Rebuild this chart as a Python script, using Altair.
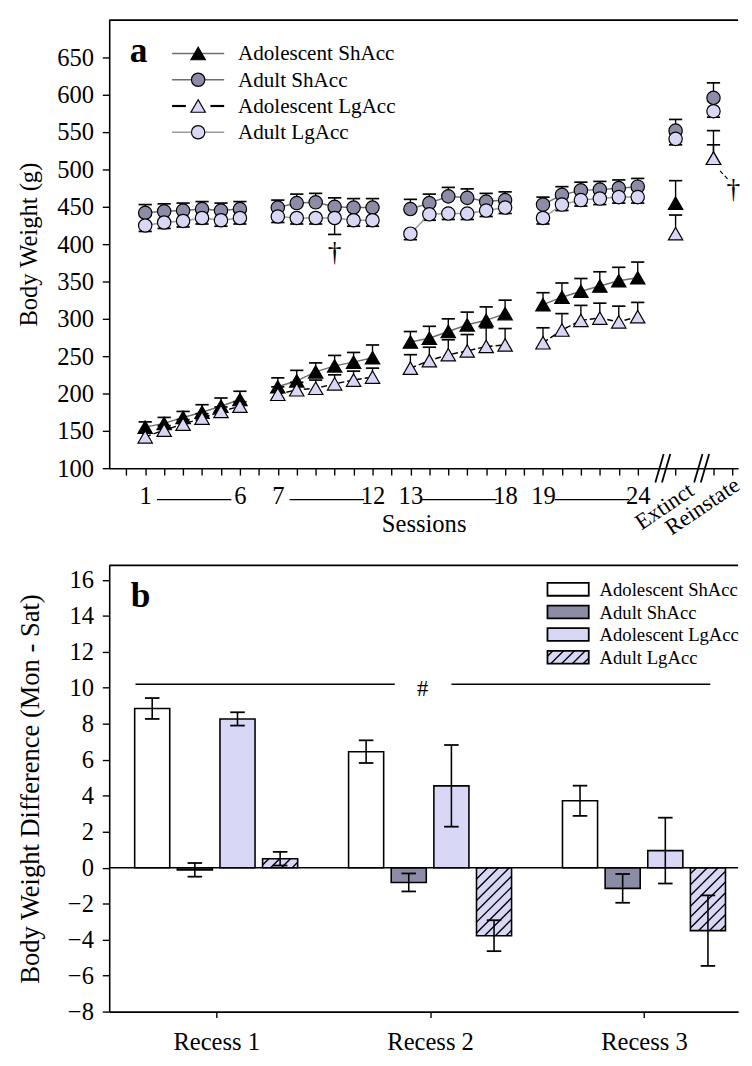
import altair as alt
import pandas as pd

FONT = "Liberation Serif"
DARK = "#8c8ca6"
LIGHT = "#d8d8f6"

# ---------------- panel a data ----------------
series_names = ["Adolescent ShAcc", "Adult ShAcc", "Adolescent LgAcc", "Adult LgAcc"]
positions = [1, 2, 3, 4, 5, 6, 8, 9, 10, 11, 12, 13, 15, 16, 17, 18, 19, 20,
             22, 23, 24, 25, 26, 27, 29, 31]
blocks = [1] * 6 + [2] * 6 + [3] * 6 + [4] * 6 + [5, 6]
session_label_pos = [1, 6, 8, 13, 15, 20, 22, 27]
session_labels = ["1", "6", "7", "12", "13", "18", "19", "24"]
phase_pos = [29, 31]
phase_labels = ["Extinct", "Reinstate"]

adol_sh_mean = [155, 160, 168, 175, 183, 192, 209, 217, 229, 237, 242, 248,
                269, 274, 283, 292, 298, 307, 319, 329, 337, 344, 351, 355, 455, 515]
adol_sh_sem = [7, 8, 8, 10, 11, 11, 12, 14, 12, 14, 13, 17,
               14, 16, 17, 17, 18, 18, 16, 19, 17, 19, 18, 21, 30, 18]
adult_sh_mean = [442, 444, 445, 447, 445, 447, 449, 455, 456, 450, 449, 449,
                 447, 455, 464, 462, 457, 459, 453, 466, 472, 473, 475, 477, 552, 596]
adult_sh_sem = [11, 10, 10, 10, 10, 10, 10, 12, 12, 12, 12, 12,
                13, 12, 12, 12, 11, 11, 10, 11, 11, 11, 11, 11, 15, 20]
adol_lg_mean = [142, 151, 159, 167, 176, 183, 199, 205, 207, 213, 218, 222,
                234, 244, 252, 257, 263, 265, 268, 285, 298, 301, 296, 303, 414, 515]
adol_lg_sem = [6, 6, 6, 6, 6, 6, 10, 10, 11, 12, 12, 12,
               18, 18, 20, 22, 25, 22, 20, 22, 20, 20, 21, 19, 25, 37]
adult_lg_mean = [425, 429, 431, 435, 432, 435, 437, 435, 435, 435, 432, 432,
                 414, 440, 441, 441, 445, 449, 435, 453, 459, 461, 463, 463, 541, 578]
adult_lg_sem = [8, 8, 8, 8, 8, 8, 8, 8, 8, 22, 8, 8,
                8, 8, 8, 8, 8, 8, 8, 8, 8, 8, 8, 8, 8, 8]

# ---------------- panel b data ----------------
recess_labels = ["Recess 1", "Recess 2", "Recess 3"]
diff_mean = {
    "Adolescent ShAcc": [8.85, 6.45, 3.72],
    "Adult ShAcc": [-0.12, -0.82, -1.15],
    "Adolescent LgAcc": [8.27, 4.55, 0.95],
    "Adult LgAcc": [0.5, -3.78, -3.5],
}
diff_sem = {
    "Adolescent ShAcc": [0.58, 0.63, 0.84],
    "Adult ShAcc": [0.38, 0.5, 0.8],
    "Adolescent LgAcc": [0.37, 2.27, 1.83],
    "Adult LgAcc": [0.38, 0.86, 1.96],
}

# ---------------- layout constants ----------------
W = 640
HA = 456
HB = 454
XA_DOM = [-0.9, 32.3]
YA_DOM = [100, 700]
XB_DOM = [0.5, 3.44]
YB_DOM = [-8, 16.8]
LABEL_SIZE = 25

xa_scale = alt.Scale(domain=XA_DOM, nice=False, zero=False)
ya_scale = alt.Scale(domain=YA_DOM, nice=False, zero=False)
xb_scale = alt.Scale(domain=XB_DOM, nice=False, zero=False)
yb_scale = alt.Scale(domain=YB_DOM, nice=False, zero=False)

lab_map = {p: l for p, l in zip(session_label_pos, session_labels)}
label_expr = "".join(f"datum.value == {p} ? '{l}' : " for p, l in lab_map.items()) + "''"

axis_common = dict(labelFont=FONT, titleFont=FONT, labelColor="black", titleColor="black",
                   domainColor="black", tickColor="black", domainWidth=1.6, tickWidth=1.4,
                   grid=False, titleFontWeight="normal", labelFontSize=LABEL_SIZE)

xa_axis = alt.Axis(values=list(range(0, 28)) + [29, 31, 32], labelExpr=label_expr,
                   title="Sessions", titleFontSize=25, tickSize=7, labelPadding=9, titlePadding=3,
                   labelOverlap=False, labelFlush=False, **axis_common)
ya_axis = alt.Axis(values=list(range(100, 651, 50)), title="Body Weight (g)", titleFontSize=25,
                   tickSize=7, labelPadding=9, titlePadding=15, minExtent=54, maxExtent=54,
                   **axis_common)
xb_axis = alt.Axis(values=[1, 2, 3],
                   labelExpr="datum.value == 1 ? 'Recess 1' : datum.value == 2 ? 'Recess 2' : 'Recess 3'",
                   title=None, tickSize=6, labelPadding=13, labelOverlap=False, labelFlush=False,
                   **axis_common)
yb_axis = alt.Axis(values=list(range(-8, 17, 2)), title="Body Weight Difference (Mon - Sat)",
                   titleFontSize=27, tickSize=7, labelPadding=9, titlePadding=12,
                   minExtent=54, maxExtent=54, **axis_common)


def XA(f):
    return alt.X(f"{f}:Q", scale=xa_scale, axis=xa_axis)


def YA(f):
    return alt.Y(f"{f}:Q", scale=ya_scale, axis=ya_axis)


def XB(f):
    return alt.X(f"{f}:Q", scale=xb_scale, axis=xb_axis)


def YB(f):
    return alt.Y(f"{f}:Q", scale=yb_scale, axis=yb_axis)


one = pd.DataFrame({"k": [0]})

# ---------------- panel a ----------------
series_def = [
    ("Adolescent ShAcc", adol_sh_mean, adol_sh_sem, 1, "triangle-up", "black", "#6e6e6e", None),
    ("Adult ShAcc", adult_sh_mean, adult_sh_sem, 1, "circle", DARK, "#6e6e6e", None),
    ("Adolescent LgAcc", adol_lg_mean, adol_lg_sem, 1, "triangle-up", LIGHT, "black", [6, 3]),
    ("Adult LgAcc", adult_lg_mean, adult_lg_sem, -1, "circle", LIGHT, "#9a9a9a", None),
]
TRI_SIZE = 215
CIR_SIZE = 185

layers_a = []
layers_a.append(alt.Chart(one).mark_rule(color="black", strokeWidth=1.8).encode(
    x=alt.value(0), x2=alt.value(W), y=alt.value(0)))

# connector lines between session range labels
conn = pd.DataFrame({
    "xs": [session_label_pos[i] + 0.62 for i in range(0, 8, 2)],
    "xe": [session_label_pos[i + 1] - 0.45 for i in range(0, 8, 2)],
})
layers_a.append(alt.Chart(conn).mark_rule(color="black", strokeWidth=1.4).encode(
    x=XA("xs"), x2="xe:Q", y=alt.value(HA + 32)))

# axis breaks
brk = pd.DataFrame({"c": [28.15, 28.5, 30.2, 30.55]})
brk["x0"] = brk["c"] - 0.22
brk["x1"] = brk["c"] + 0.22
brk["y0"] = YA_DOM[0] - 19
brk["y1"] = YA_DOM[0] + 19
layers_a.append(alt.Chart(brk).mark_rule(color="black", strokeWidth=1.8).encode(
    x=XA("x0"), x2="x1:Q", y=YA("y0"), y2="y1:Q"))

for name, means, sems, direc, shape, fill, lcol, dash in series_def:
    df = pd.DataFrame({"pos": positions, "block": blocks, "mean": means, "sem": sems})
    df["end"] = df["mean"] + direc * df["sem"]
    df["cl"] = df["pos"] - 0.35
    df["cr"] = df["pos"] + 0.35
    layers_a.append(alt.Chart(df).mark_rule(color="black", strokeWidth=1.4).encode(
        x=XA("pos"), y=YA("mean"), y2="end:Q"))
    layers_a.append(alt.Chart(df).mark_rule(color="black", strokeWidth=1.7).encode(
        x=XA("cl"), x2="cr:Q", y=YA("end")))
    lkw = dict(color=lcol, strokeWidth=1.5)
    if dash:
        lkw["strokeDash"] = dash
    layers_a.append(alt.Chart(df[df["block"] <= 4]).mark_line(**lkw).encode(
        x=XA("pos"), y=YA("mean"), detail="block:N"))
    size = TRI_SIZE if shape == "triangle-up" else CIR_SIZE
    layers_a.append(alt.Chart(df).mark_point(shape=shape, filled=True, fill=fill, stroke="black",
                                             strokeWidth=1.2, size=size, opacity=1,
                                             fillOpacity=1).encode(
        x=XA("pos"), y=YA("mean")))

# daggers
dag = pd.DataFrame({"x": [11, 32.05], "y": [388, 472]})
layers_a.append(alt.Chart(dag).mark_text(text="\u2020", font=FONT, fontSize=28, color="black",
                                         baseline="middle").encode(x=XA("x"), y=YA("y")))
dl = pd.DataFrame({"x0": [31.35], "x1": [31.8], "y0": [498], "y1": [486]})
layers_a.append(alt.Chart(dl).mark_rule(color="black", strokeWidth=1.2, strokeDash=[4, 3]).encode(
    x=XA("x0"), x2="x1:Q", y=YA("y0"), y2="y1:Q"))

# phase labels (rotated)
ph = pd.DataFrame({"x": [p - 0.58 for p in phase_pos], "t": phase_labels})
layers_a.append(alt.Chart(ph).mark_text(font=FONT, fontSize=23, color="black", angle=326,
                                        align="center", baseline="middle").encode(
    x=XA("x"), y=alt.value(HA + 39), text="t:N"))

# legend a
LA_Y0, LA_DY = 34, 26.7
for i, (name, means, sems, direc, shape, fill, lcol, dash) in enumerate(series_def):
    yy = LA_Y0 + i * LA_DY
    if dash:
        for a0, a1 in [(64, 78), (103, 117)]:
            layers_a.append(alt.Chart(one).mark_rule(color="black", strokeWidth=2.2).encode(
                x=alt.value(a0), x2=alt.value(a1), y=alt.value(yy)))
    else:
        layers_a.append(alt.Chart(one).mark_rule(color=lcol, strokeWidth=1.5).encode(
            x=alt.value(64), x2=alt.value(117), y=alt.value(yy)))
    size = TRI_SIZE if shape == "triangle-up" else CIR_SIZE
    layers_a.append(alt.Chart(one).mark_point(shape=shape, filled=True, fill=fill, stroke="black",
                                              strokeWidth=1.2, size=size, opacity=1).encode(
        x=alt.value(90.5), y=alt.value(yy)))
    layers_a.append(alt.Chart(one).mark_text(text=name, font=FONT, fontSize=21.5, color="black",
                                             align="left", baseline="middle").encode(
        x=alt.value(131), y=alt.value(yy + 1)))

layers_a.append(alt.Chart(one).mark_text(text="a", font=FONT, fontSize=36, fontWeight="bold",
                                         color="black", align="center", baseline="middle").encode(
    x=alt.value(30), y=alt.value(32)))

panel_a = alt.layer(*layers_a).properties(width=W, height=HA)

# ---------------- panel b ----------------
groups = series_names
offsets = [-0.299, -0.0997, 0.0997, 0.299]
fills = ["white", DARK, LIGHT, LIGHT]
HALF = 0.082
rows = []
for gi, g in enumerate(groups):
    for ri, r in enumerate(recess_labels):
        x = ri + 1 + offsets[gi]
        m = diff_mean[g][ri]
        s = diff_sem[g][ri]
        rows.append(dict(group=g, x=x, xl=x - HALF, xr=x + HALF, mean=m, zero=0.0,
                         lo=m - s, hi=m + s, cl=x - 0.034, cr=x + 0.034))
dfb = pd.DataFrame(rows)

px_x = W / (XB_DOM[1] - XB_DOM[0])
px_y = HB / (YB_DOM[1] - YB_DOM[0])
SP = 11.0


def hatch_segments(x0, x1, y0, y1, sx, sy):
    """'/' lines spaced SP pixels inside a box, returned in the box's own units."""
    w = (x1 - x0) * sx
    h = (y1 - y0) * sy
    segs = []
    c = -w + SP / 2
    while c < h:
        a = max(0.0, -c)
        b = min(w, h - c)
        if b > a:
            segs.append((x0 + a / sx, y0 + (a + c) / sy, x0 + b / sx, y0 + (b + c) / sy))
        c += SP
    return segs


hrows = []
for _, r in dfb[dfb["group"] == "Adult LgAcc"].iterrows():
    lo_, hi_ = sorted([0.0, r["mean"]])
    for s in hatch_segments(r["xl"], r["xr"], lo_, hi_, px_x, px_y):
        hrows.append(dict(hx0=s[0], hy0=s[1], hx1=s[2], hy1=s[3]))
dfh = pd.DataFrame(hrows)

layers_b = []
layers_b.append(alt.Chart(one).mark_rule(color="black", strokeWidth=1.8).encode(
    x=alt.value(0), x2=alt.value(W), y=alt.value(0)))
layers_b.append(alt.Chart(dfb).mark_rect(stroke="black", strokeWidth=1.6).encode(
    x=XB("xl"), x2="xr:Q", y=YB("mean"), y2="zero:Q",
    fill=alt.Fill("group:N", scale=alt.Scale(domain=groups, range=fills), legend=None)))
layers_b.append(alt.Chart(dfh).mark_rule(color="black", strokeWidth=1.4).encode(
    x=XB("hx0"), x2="hx1:Q", y=YB("hy0"), y2="hy1:Q"))
layers_b.append(alt.Chart(pd.DataFrame({"z": [0.0]})).mark_rule(color="black", strokeWidth=1.6).encode(
    y=YB("z"), x=alt.value(0), x2=alt.value(W)))
layers_b.append(alt.Chart(dfb).mark_rule(color="black", strokeWidth=1.6).encode(
    x=XB("x"), y=YB("lo"), y2="hi:Q"))
layers_b.append(alt.Chart(dfb).mark_rule(color="black", strokeWidth=1.8).encode(
    x=XB("cl"), x2="cr:Q", y=YB("lo")))
layers_b.append(alt.Chart(dfb).mark_rule(color="black", strokeWidth=1.8).encode(
    x=XB("cl"), x2="cr:Q", y=YB("hi")))

# significance annotation
sig = pd.DataFrame({"x0": [0.623, 2.10], "x1": [1.835, 3.31], "y": [10.2, 10.2]})
layers_b.append(alt.Chart(sig).mark_rule(color="black", strokeWidth=1.5).encode(
    x=XB("x0"), x2="x1:Q", y=YB("y")))
layers_b.append(alt.Chart(pd.DataFrame({"x": [1.965], "y": [9.95]})).mark_text(
    text="#", font=FONT, fontSize=23, color="black", baseline="middle").encode(
    x=XB("x"), y=YB("y")))

# legend b
LB_X0, LB_X1 = 446, 488
LB_Y0, LB_DY = 24.3, 23
for i, g in enumerate(groups):
    yy = LB_Y0 + i * LB_DY
    layers_b.append(alt.Chart(one).mark_rect(fill=fills[i], stroke="black", strokeWidth=1.8).encode(
        x=alt.value(LB_X0), x2=alt.value(LB_X1), y=alt.value(yy - 6.5), y2=alt.value(yy + 6.5)))
    if g == "Adult LgAcc":
        segs = hatch_segments(LB_X0, LB_X1, 0, 13, 1.0, 1.0)
        lh = pd.DataFrame([dict(a=s[0], b=yy + 6.5 - s[1], c=s[2], d=yy + 6.5 - s[3]) for s in segs])
        layers_b.append(alt.Chart(lh).mark_rule(color="black", strokeWidth=1.4).encode(
            x=alt.X("a:Q", scale=None), x2="c:Q", y=alt.Y("b:Q", scale=None), y2="d:Q"))
    layers_b.append(alt.Chart(one).mark_text(text=g, font=FONT, fontSize=19, color="black",
                                             align="left", baseline="middle").encode(
        x=alt.value(499), y=alt.value(yy + 1)))

layers_b.append(alt.Chart(one).mark_text(text="b", font=FONT, fontSize=36, fontWeight="bold",
                                         color="black", align="center", baseline="middle").encode(
    x=alt.value(32), y=alt.value(31)))

panel_b = alt.layer(*layers_b).properties(width=W, height=HB)

chart = alt.vconcat(panel_a, panel_b, spacing=99, bounds="flush").properties(
    padding={"left": 9, "top": 2, "right": 0, "bottom": 0},
    background="white",
).configure_view(stroke=None)

chart.save("out.html", embed_options={"renderer": "svg", "actions": False})
